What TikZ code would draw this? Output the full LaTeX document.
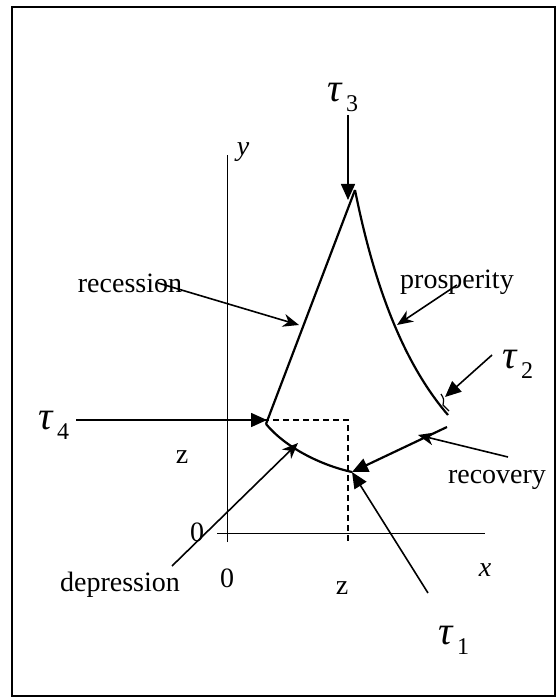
\documentclass[tikz,border=0pt]{standalone}
\usepackage{fontspec}
\setmainfont{Liberation Serif}
\usetikzlibrary{arrows.meta}
\newcommand{\tlab}[1]{{\fontsize{20}{22}\selectfont\itshape τ}\kern2pt\raisebox{-5pt}{\fontsize{12}{13}\selectfont #1}}

\begin{document}
\begin{tikzpicture}[x=0.5pt,y=-0.5pt,
  lbl/.style={font=\fontsize{14}{16}\selectfont,inner sep=0pt},
  cyc/.style={line width=1.1pt},
  ax/.style={line width=0.5pt},
  tarr/.style={line width=0.8pt,-{Triangle[length=8pt,width=7pt]}},
  larr/.style={line width=0.8pt,-{Stealth[length=8pt,width=6.5pt,inset=2.5pt]}}]
\useasboundingbox (0,0) rectangle (560,700);
\draw[line width=1pt] (12,7) rectangle (555,696);
% axes
\coordinate (org) at (227,533);
\coordinate (ytop) at (227,155);
\coordinate (ybot) at (227,542);
\coordinate (xl) at (217,533);
\coordinate (xr) at (485,533);
\draw[ax] (ybot) -- (ytop);
\draw[ax] (xl) -- (xr);
\node[lbl,font=\fontsize{14}{16}\selectfont\itshape] (ylab) at (243,152) {y};
\node[lbl,font=\fontsize{14}{16}\selectfont\itshape] (xlab) at (485,570) {x};
\node[lbl] (zero1) at (197,532) {0};
\node[lbl] (zero2) at (227,578) {0};
\node[lbl] (zx) at (342,588) {z};
\node[lbl] (zy) at (182,457) {z};
% cycle points
\coordinate (P3) at (355,190);
\coordinate (P4) at (266,424);
\coordinate (P1) at (352,472);
\coordinate (P2) at (448,415);
\coordinate (R0) at (447,427);
\coordinate (dz) at (203,420);
\coordinate (dc) at (348,420);
\coordinate (db) at (348,543);
\draw[line width=0.8pt,dash pattern=on 3pt off 2pt] (dz) -- (dc) -- (db);
\draw[cyc] (P3) -- (P4);
\draw[cyc] (P4) .. controls (285,447) and (320,465) .. (P1);
\draw[cyc] (P3) .. controls (375,290) and (405,365) .. (P2);
\draw[line width=0.6pt] (441,394) .. controls (444,399) .. (443,405) -- (449,411);
\draw[cyc,-{Triangle[length=8pt,width=7pt]}] (R0) -- (P1);
% tau labels
\node[lbl] (t3) at (343,97) {\tlab{3}};
\node[lbl] (t4) at (54,425) {\tlab{4}};
\node[lbl] (t2) at (518,364) {\tlab{2}};
\node[lbl] (t1) at (454,640) {\tlab{1}};
\coordinate (t3s) at (348,115);
\coordinate (t3e) at (348,200);
\coordinate (t4s) at (76,420);
\coordinate (t4e) at (267,420);
\coordinate (t2s) at (492,355);
\coordinate (t2e) at (445,397);
\coordinate (t1s) at (428,593);
\draw[tarr] (t3s) -- (t3e);
\draw[tarr] (t4s) -- (t4e);
\draw[tarr] (t2s) -- (t2e);
\draw[tarr] (t1s) -- (P1);
% phase labels
\node[lbl] (rec) at (130,283) {recession};
\node[lbl] (pro) at (457,282) {prosperity};
\node[lbl] (rcv) at (497,480) {recovery};
\node[lbl] (dep) at (120,585) {depression};
\coordinate (recs) at (158,283);
\coordinate (rece) at (299,325);
\coordinate (pros) at (457,285);
\coordinate (proe) at (397,325);
\coordinate (rcvs) at (508,457);
\coordinate (rcve) at (418,435);
\coordinate (deps) at (172,566);
\coordinate (depe) at (298,443);
\draw[larr] (recs) -- (rece);
\draw[larr] (pros) -- (proe);
\draw[larr] (rcvs) -- (rcve);
\draw[larr] (deps) -- (depe);
\end{tikzpicture}
\end{document}
